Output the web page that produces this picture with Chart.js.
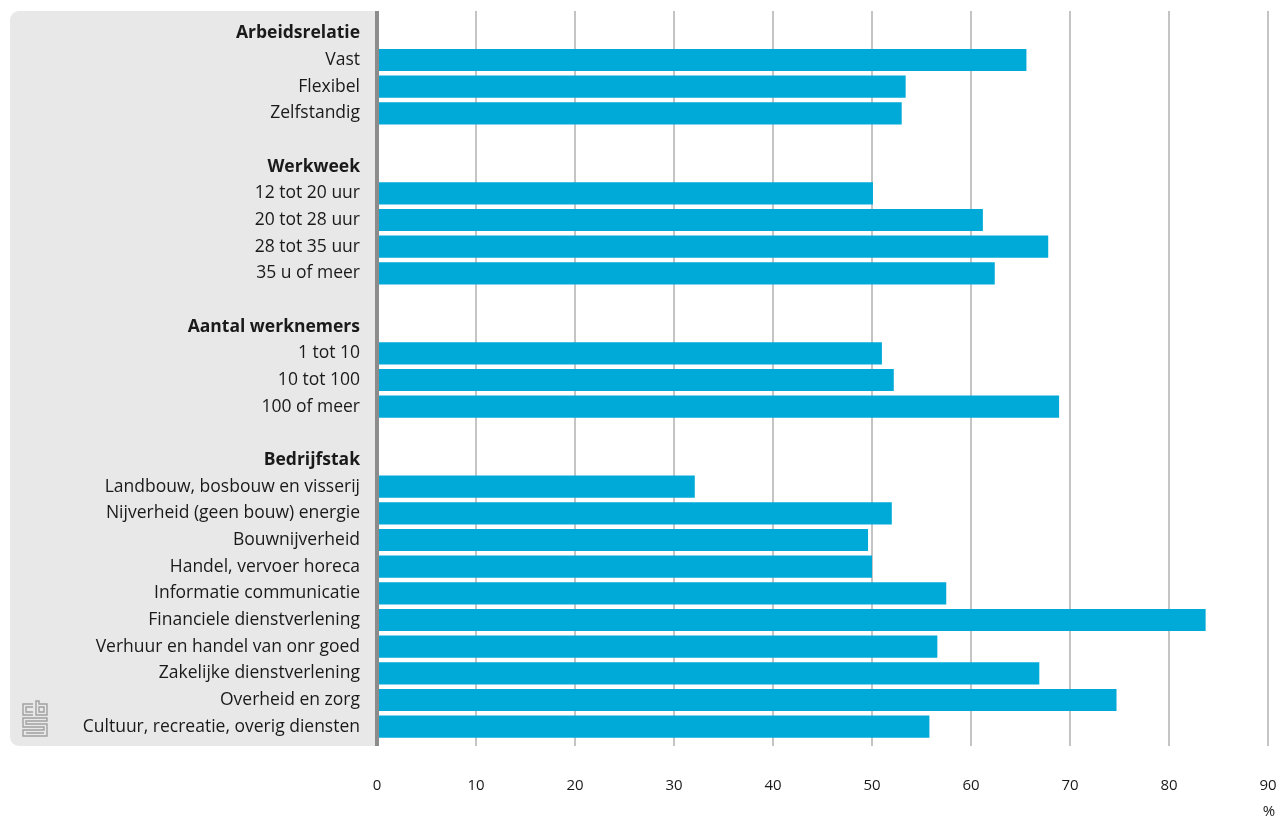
<!DOCTYPE html>
<html lang="nl">
<head>
    <meta charset="UTF-8">
    <title>Aandeel per kenmerk</title>
    <script src="https://cdn.jsdelivr.net/npm/chart.js"></script>
    <style>
        html, body { margin: 0; padding: 0; background: #fff; overflow: hidden; }
        .chart-wrap { width: 1281px; height: 819px; position: relative; }
        canvas { display: block; }
    </style>
</head>
<body>
    <div class="chart-wrap">
        <canvas id="barChart"></canvas>
    </div>

    <script>
        // Rows top to bottom; empty strings are spacer rows between groups
        const categories = [
            'Arbeidsrelatie', 'Vast', 'Flexibel', 'Zelfstandig', '',
            'Werkweek', '12 tot 20 uur', '20 tot 28 uur', '28 tot 35 uur', '35 u of meer', '',
            'Aantal werknemers', '1 tot 10', '10 tot 100', '100 of meer', '',
            'Bedrijfstak', 'Landbouw, bosbouw en visserij', 'Nijverheid (geen bouw) energie',
            'Bouwnijverheid', 'Handel, vervoer horeca', 'Informatie communicatie',
            'Financiele dienstverlening', 'Verhuur en handel van onr goed',
            'Zakelijke dienstverlening', 'Overheid en zorg', 'Cultuur, recreatie, overig diensten'
        ];
        const groupHeaders = ['Arbeidsrelatie', 'Werkweek', 'Aantal werknemers', 'Bedrijfstak'];
        const shares = [
            null, 65.6, 53.4, 53.0, null,
            null, 50.1, 61.2, 67.8, 62.4, null,
            null, 51.0, 52.2, 68.9, null,
            null, 32.1, 52.0, 49.6, 50.0, 57.5, 83.7, 56.6, 66.9, 74.7, 55.8
        ];
        const xTickValues = [0, 10, 20, 30, 40, 50, 60, 70, 80, 90];
        const unitLabel = '%';

        const FONT = "'Open Sans', 'Noto Sans', sans-serif";
        const PANEL_TOP = 11;
        const PANEL_BOTTOM = 746;

        // Grey label panel, vertical gridlines, axis line, unit label and logo
        const backdrop = {
            id: 'backdrop',
            beforeDraw(chart) {
                const { ctx, chartArea, scales } = chart;
                const x0 = chartArea.left;
                ctx.save();
                ctx.fillStyle = '#e8e8e8';
                ctx.beginPath();
                ctx.roundRect(10, PANEL_TOP, x0 - 10, PANEL_BOTTOM - PANEL_TOP, [9, 0, 0, 9]);
                ctx.fill();

                ctx.strokeStyle = '#c4c4c4';
                ctx.lineWidth = 2;
                xTickValues.forEach(v => {
                    if (v === 0) return;
                    const x = Math.round(scales.x.getPixelForValue(v));
                    ctx.beginPath();
                    ctx.moveTo(x, PANEL_TOP);
                    ctx.lineTo(x, PANEL_BOTTOM);
                    ctx.stroke();
                });

                // cbs logo
                ctx.strokeStyle = '#a0a0a0';
                ctx.lineWidth = 1.4;
                ctx.beginPath();
                // c
                ctx.moveTo(33, 704); ctx.lineTo(23, 704); ctx.lineTo(23, 715); ctx.lineTo(33, 715);
                ctx.moveTo(33, 707); ctx.lineTo(26, 707); ctx.lineTo(26, 712); ctx.lineTo(33, 712);
                // b
                ctx.moveTo(36, 701); ctx.lineTo(36, 715); ctx.lineTo(47, 715); ctx.lineTo(47, 704); ctx.lineTo(39, 704); ctx.lineTo(39, 701); ctx.closePath();
                ctx.rect(39, 707, 5, 5);
                // S
                ctx.moveTo(47, 718); ctx.lineTo(23, 718); ctx.lineTo(23, 727); ctx.lineTo(44, 727); ctx.lineTo(44, 730); ctx.lineTo(23, 730); ctx.lineTo(23, 736); ctx.lineTo(47, 736); ctx.lineTo(47, 724); ctx.lineTo(26, 724); ctx.lineTo(26, 721); ctx.lineTo(47, 721); ctx.closePath();
                ctx.moveTo(26, 733); ctx.lineTo(44, 733);
                ctx.stroke();
                ctx.restore();
            },
            afterDatasetsDraw(chart) {
                const { ctx, chartArea, scales } = chart;
                ctx.save();
                ctx.fillStyle = '#8c8c8c';
                ctx.fillRect(chartArea.left - 2, PANEL_TOP, 4, PANEL_BOTTOM - PANEL_TOP);
                ctx.fillStyle = '#1a1a1a';
                ctx.font = '15px ' + FONT;
                ctx.textAlign = 'center';
                ctx.textBaseline = 'middle';
                ctx.fillText(unitLabel, scales.x.getPixelForValue(xTickValues[xTickValues.length - 1]) + 1, 812);
                ctx.restore();
            }
        };

        new Chart(document.getElementById('barChart'), {
            type: 'bar',
            data: {
                labels: categories,
                datasets: [{
                    data: shares,
                    backgroundColor: '#00aad8',
                    barPercentage: 0.83,
                    categoryPercentage: 1
                }]
            },
            options: {
                indexAxis: 'y',
                responsive: true,
                maintainAspectRatio: false,
                animation: false,
                layout: { padding: { top: 20, right: 13, left: 0, bottom: 0 } },
                plugins: {
                    legend: { display: false },
                    tooltip: { enabled: false }
                },
                scales: {
                    x: {
                        min: xTickValues[0],
                        max: xTickValues[xTickValues.length - 1],
                        afterBuildTicks: s => { s.ticks = xTickValues.map(v => ({ value: v })); },
                        afterFit: s => { s.height = 79; },
                        // tick marks hidden, their length only pushes the labels down
                        grid: { display: false, drawTicks: true, tickLength: 34 },
                        border: { display: false },
                        ticks: {
                            padding: 3,
                            color: '#1a1a1a',
                            font: { family: FONT, size: 15 },
                            maxRotation: 0
                        }
                    },
                    y: {
                        afterFit: s => {
                            s.width = 377;
                            s.paddingTop = 0;
                            s.paddingBottom = 0;
                        },
                        grid: { display: false },
                        border: { display: false },
                        ticks: {
                            autoSkip: false,
                            padding: 9,
                            color: '#1a1a1a',
                            font: ctx => ({
                                family: FONT,
                                size: 17.5,
                                weight: groupHeaders.includes(categories[ctx.index]) ? 'bold' : 'normal'
                            })
                        }
                    }
                }
            },
            plugins: [backdrop]
        });
    </script>
</body>
</html>
